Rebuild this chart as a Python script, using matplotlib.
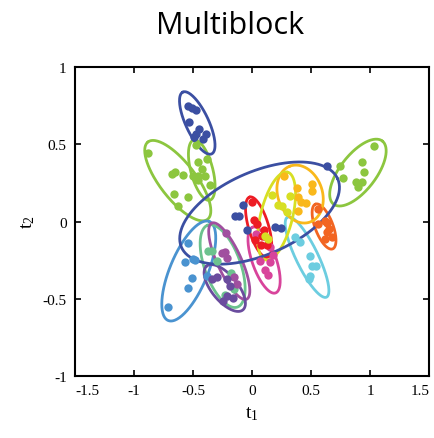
import numpy as np
import matplotlib
matplotlib.use('Agg')
import matplotlib.pyplot as plt

# Scores of each block on the first two components
navy_small_x = [-0.545, -0.511, -0.478, -0.537, -0.452, -0.478, -0.393, -0.418, -0.495]
navy_small_y = [0.748, 0.735, 0.722, 0.644, 0.599, 0.566, 0.566, 0.534, 0.547]

green_big_x = [-0.883, -0.680, -0.655, -0.587, -0.664, -0.545, -0.630]
green_big_y = [0.443, 0.307, 0.320, 0.301, 0.178, 0.159, 0.100]

green_small_x = [-0.478, -0.385, -0.461, -0.427, -0.503, -0.461, -0.402, -0.461, -0.359]
green_small_y = [0.495, 0.405, 0.385, 0.340, 0.294, 0.294, 0.294, 0.269, 0.236]

navy_big_x = [-0.080, -0.148, -0.114, -0.046, 0.190, 0.241, 0.638]
navy_big_y = [0.107, 0.036, 0.036, -0.055, -0.036, -0.042, 0.359]

red_x = [-0.004, 0.013, 0.038, 0.097, 0.021, 0.072, 0.123, 0.080]
red_y = [0.126, 0.010, -0.016, -0.055, -0.120, -0.152, -0.152, -0.094]

magenta_x = [0.030, 0.114, 0.148, 0.173, 0.063, 0.148, 0.106, 0.131]
magenta_y = [-0.081, -0.100, -0.165, -0.217, -0.256, -0.262, -0.314, -0.346]

lime_x = [0.317, 0.216, 0.249, 0.292, 0.131, 0.106, 0.165]
lime_y = [0.165, 0.107, 0.100, 0.061, -0.113, -0.094, 0.172]

gold_x = [0.266, 0.376, 0.511, 0.511, 0.385, 0.410, 0.452, 0.385]
gold_y = [0.294, 0.217, 0.243, 0.197, 0.159, 0.126, 0.120, 0.068]

orange_x = [0.562, 0.613, 0.630, 0.554, 0.655, 0.630, 0.613, 0.680]
orange_y = [0.081, 0.003, -0.010, -0.016, -0.049, -0.068, -0.113, -0.100]

green_right_x = [1.036, 0.748, 0.934, 0.951, 0.773, 0.883, 0.934, 0.900]
green_right_y = [0.489, 0.359, 0.385, 0.320, 0.282, 0.256, 0.256, 0.223]

cyan_x = [0.359, 0.402, 0.486, 0.503, 0.545, 0.486, 0.478]
cyan_y = [-0.100, -0.133, -0.223, -0.288, -0.288, -0.353, -0.372]

blue_x = [-0.545, -0.571, -0.503, -0.486, -0.511, -0.545, -0.714, -0.385]
blue_y = [-0.139, -0.262, -0.243, -0.249, -0.366, -0.430, -0.553, -0.353]

mint_x = [-0.376, -0.342, -0.300, -0.182, -0.156, -0.232]
mint_y = [-0.191, -0.191, -0.256, -0.333, -0.437, -0.476]

violet_x = [-0.224, -0.258, -0.232, -0.216, -0.156, -0.131]
violet_y = [-0.074, -0.204, -0.197, -0.236, -0.359, -0.405]

purple_x = [-0.342, -0.300, -0.216, -0.190, -0.216, -0.249, -0.165]
purple_y = [-0.372, -0.359, -0.372, -0.417, -0.482, -0.515, -0.495]

# Confidence ellipses: centre, end of major semi-axis, end of minor semi-axis
navy_small_ell = [(-0.465, 0.638), (-0.587, 0.838), (-0.377, 0.669)]
green_big_ell = [(-0.630, 0.265), (-0.883, 0.515), (-0.510, 0.337)]
green_small_ell = [(-0.427, 0.333), (-0.495, 0.528), (-0.337, 0.351)]
navy_big_ell = [(0.063, 0.055), (0.725, 0.276), (0.203, -0.191)]
red_ell = [(0.055, -0.036), (-0.021, 0.159), (0.136, -0.017)]
magenta_ell = [(0.101, -0.249), (0.004, -0.036), (0.197, -0.224)]
lime_ell = [(0.207, 0.036), (0.300, 0.320), (0.338, 0.010)]
gold_ell = [(0.406, 0.178), (0.321, 0.359), (0.583, 0.227)]
orange_ell = [(0.609, -0.032), (0.537, 0.113), (0.680, -0.012)]
green_right_ell = [(0.896, 0.317), (1.103, 0.521), (1.016, 0.245)]
cyan_ell = [(0.465, -0.230), (0.300, 0.029), (0.549, -0.199)]
blue_ell = [(-0.537, -0.320), (-0.362, 0.000), (-0.390, -0.368)]
mint_ell = [(-0.250, -0.288), (-0.376, -0.023), (-0.107, -0.248)]
violet_ell = [(-0.194, -0.256), (-0.342, -0.010), (-0.102, -0.223)]
purple_ell = [(-0.232, -0.430), (-0.385, -0.288), (-0.147, -0.377)]

groups = [
    (green_big_x, green_big_y, green_big_ell, '#8cc63f'),
    (green_small_x, green_small_y, green_small_ell, '#8cc63f'),
    (navy_small_x, navy_small_y, navy_small_ell, '#3b4fa2'),
    (green_right_x, green_right_y, green_right_ell, '#8cc63f'),
    (blue_x, blue_y, blue_ell, '#4a93d0'),
    (mint_x, mint_y, mint_ell, '#6cc28e'),
    (violet_x, violet_y, violet_ell, '#a04f9f'),
    (purple_x, purple_y, purple_ell, '#6a4c9e'),
    (cyan_x, cyan_y, cyan_ell, '#6ccde0'),
    (orange_x, orange_y, orange_ell, '#f26522'),
    (gold_x, gold_y, gold_ell, '#f9b81b'),
    (magenta_x, magenta_y, magenta_ell, '#d8449b'),
    (red_x, red_y, red_ell, '#ed1c24'),
    (lime_x, lime_y, lime_ell, '#d7df23'),
    (navy_big_x, navy_big_y, navy_big_ell, '#3b4fa2'),
]

fig = plt.figure(figsize=(4.34, 4.39), dpi=100)
ax = fig.add_axes([0.173, 0.141, 0.816, 0.704])

t = np.linspace(0, 2 * np.pi, 200)
for gx, gy, ell, color in groups:
    c, a, b = (np.array(p) for p in ell)
    pts = c[:, None] + np.outer(a - c, np.cos(t)) + np.outer(b - c, np.sin(t))
    ax.plot(pts[0], pts[1], color=color, linewidth=2.0, solid_capstyle='round')
for gx, gy, ell, color in groups:
    ax.plot(gx, gy, 'o', color=color, markersize=6, markeredgewidth=0)

ax.set_xlim(-1.5, 1.5)
ax.set_ylim(-1, 1)
ax.set_xticks([-1.5, -1, -0.5, 0, 0.5, 1, 1.5])
ax.set_xticklabels(['-1.5', '-1', '-0.5', '0', '0.5', '1', '1.5'])
ax.set_yticks([-1, -0.5, 0, 0.5, 1])
ax.set_yticklabels(['-1', '-0.5', '0', '0.5', '1'])
ax.tick_params(direction='in', length=4.5, width=1.2, top=True, right=True,
               labelsize=11, pad=6)
for lab in ax.get_xticklabels() + ax.get_yticklabels():
    lab.set_family('Liberation Serif')
# keep the end labels inside the frame width
xlabs = ax.get_xticklabels()
xlabs[0].set_horizontalalignment('left')
xlabs[-1].set_horizontalalignment('right')
for sp in ax.spines.values():
    sp.set_linewidth(1.5)

ax.set_xlabel(r'$\mathregular{t_1}$', fontsize=14, family='Liberation Serif', labelpad=5)
ax.set_ylabel(r'$\mathregular{t_2}$', fontsize=14, family='Liberation Serif', labelpad=4)
fig.text(0.531, 0.94, 'Multiblock', ha='center', va='center', fontsize=22,
         family='Open Sans')

fig.savefig('out.png', dpi=100)
